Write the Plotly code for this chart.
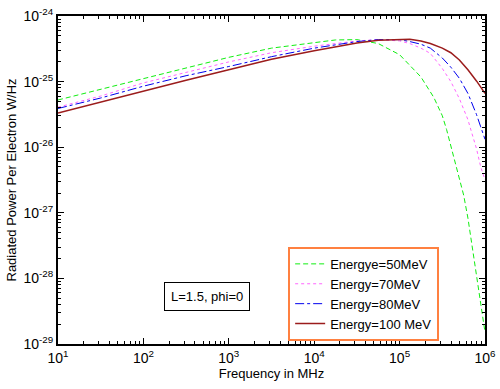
import plotly.graph_objects as go

# log10 frequency (MHz) sample points and log10 power (W/Hz)
green_logf = [1.0, 1.5, 2.0, 2.5, 3.0, 3.5, 4.0, 4.25, 4.5, 4.75, 5.0, 5.25, 5.4, 5.5, 5.55, 5.6, 5.65, 5.7, 5.75, 5.8, 5.85, 5.9, 5.95, 6.0]
green_logp = [-25.28, -25.12, -24.95, -24.79, -24.63, -24.49, -24.40, -24.365, -24.36, -24.42, -24.59, -24.93, -25.24, -25.52, -25.73, -25.97, -26.21, -26.46, -26.73, -27.08, -27.52, -27.93, -28.38, -28.82]

pink_logf = [1.0, 1.5, 2.0, 2.5, 3.0, 3.5, 4.0, 4.5, 4.75, 5.0, 5.12, 5.25, 5.36, 5.5, 5.6, 5.7, 5.8, 5.84, 5.9, 5.95, 6.0]
pink_logp = [-25.39, -25.22, -25.02, -24.86, -24.70, -24.56, -24.46, -24.38, -24.36, -24.38, -24.42, -24.49, -24.57, -24.80, -25.00, -25.26, -25.58, -25.76, -26.02, -26.30, -26.50]

blue_logf = [1.0, 1.5, 2.0, 2.5, 3.0, 3.5, 4.0, 4.5, 4.75, 5.0, 5.12, 5.25, 5.36, 5.5, 5.6, 5.7, 5.8, 5.86, 5.9, 5.95, 6.0]
blue_logp = [-25.41, -25.25, -25.07, -24.91, -24.77, -24.62, -24.49, -24.39, -24.36, -24.36, -24.39, -24.43, -24.49, -24.64, -24.78, -24.95, -25.18, -25.36, -25.50, -25.69, -25.88]

red_logf = [1.0, 1.5, 2.0, 2.5, 3.0, 3.5, 4.0, 4.5, 4.75, 5.0, 5.12, 5.25, 5.36, 5.5, 5.6, 5.7, 5.8, 5.9, 6.0]
red_logp = [-25.48, -25.31, -25.14, -24.98, -24.82, -24.66, -24.53, -24.41, -24.37, -24.355, -24.355, -24.38, -24.42, -24.49, -24.56, -24.67, -24.82, -24.99, -25.18]

series_names = ["Energye=50MeV", "Energy=70MeV", "Energy=80MeV", "Energy=100 MeV"]
x_tick_exps = [1, 2, 3, 4, 5, 6]
y_tick_exps = [-29, -28, -27, -26, -25, -24]
x_title = "Frequency in MHz"
y_title = "Radiated Power Per Electron W/Hz"
note_text = "L=1.5, phi=0"

FONT = "Arial, 'Liberation Sans', sans-serif"


def tolin(v):
    return [10 ** a for a in v]


def minor_vals(exps):
    out = []
    for e in exps[:-1]:
        for m in range(2, 10):
            out.append(m * 10 ** e)
    return out


fig = go.Figure()
styles = [
    (green_logf, green_logp, "#11ee11", "5px,3px", 1),
    (pink_logf, pink_logp, "#ff66ff", "dot", 1),
    (blue_logf, blue_logp, "#0000ee", "dashdot", 1),
    (red_logf, red_logp, "#9b1c1c", "solid", 1.5),
]
for (lf, lp, col, dash, w), name in zip(styles, series_names):
    fig.add_trace(go.Scatter(x=tolin(lf), y=tolin(lp), mode="lines", name=name,
                             line=dict(color=col, dash=dash, width=w)))

axis_common = dict(
    type="log", showgrid=False, zeroline=False, showline=True, linecolor="black",
    linewidth=2, mirror="allticks", ticks="inside", ticklen=6, tickwidth=1,
    tickcolor="black", automargin=False,
    tickfont=dict(family=FONT, size=14, color="black"),
)
fig.update_xaxes(range=[1, 6], tickmode="array",
                 tickvals=[10 ** e for e in x_tick_exps],
                 ticktext=["10<sup>%d</sup>" % e for e in x_tick_exps],
                 minor=dict(tickmode="array", tickvals=minor_vals(x_tick_exps), ticks="inside",
                            ticklen=3, tickcolor="black", showgrid=False),
                 title=dict(text=x_title, font=dict(family=FONT, size=13, color="black"), standoff=2),
                 **axis_common)
fig.update_yaxes(range=[-29, -24], tickmode="array",
                 tickvals=[10 ** e for e in y_tick_exps],
                 ticktext=["10<sup>%d</sup>" % e for e in y_tick_exps],
                 minor=dict(tickmode="array", tickvals=minor_vals(y_tick_exps), ticks="inside",
                            ticklen=3, tickcolor="black", showgrid=False),
                 title=dict(text=y_title, font=dict(family=FONT, size=13, color="black"), standoff=4),
                 **axis_common)

fig.add_annotation(x=0.35, y=0.102, xref="paper", yref="paper", text=note_text,
                   showarrow=False, bordercolor="black", borderwidth=1, borderpad=6,
                   bgcolor="white", font=dict(family=FONT, size=13, color="black"))

fig.update_layout(
    width=500, height=389,
    margin=dict(l=58, r=15, t=16, b=45),
    paper_bgcolor="white", plot_bgcolor="white",
    font=dict(family=FONT, size=13, color="black"),
    showlegend=True,
    legend=dict(x=0.539, y=0.296, xanchor="left", yanchor="top",
                bordercolor="#ff8040", borderwidth=2, bgcolor="white",
                font=dict(family=FONT, size=13, color="black")),
)

fig.write_html("out.html", config={"displayModeBar": False},
               post_script="document.body.style.margin='0';document.body.style.padding='0';")
